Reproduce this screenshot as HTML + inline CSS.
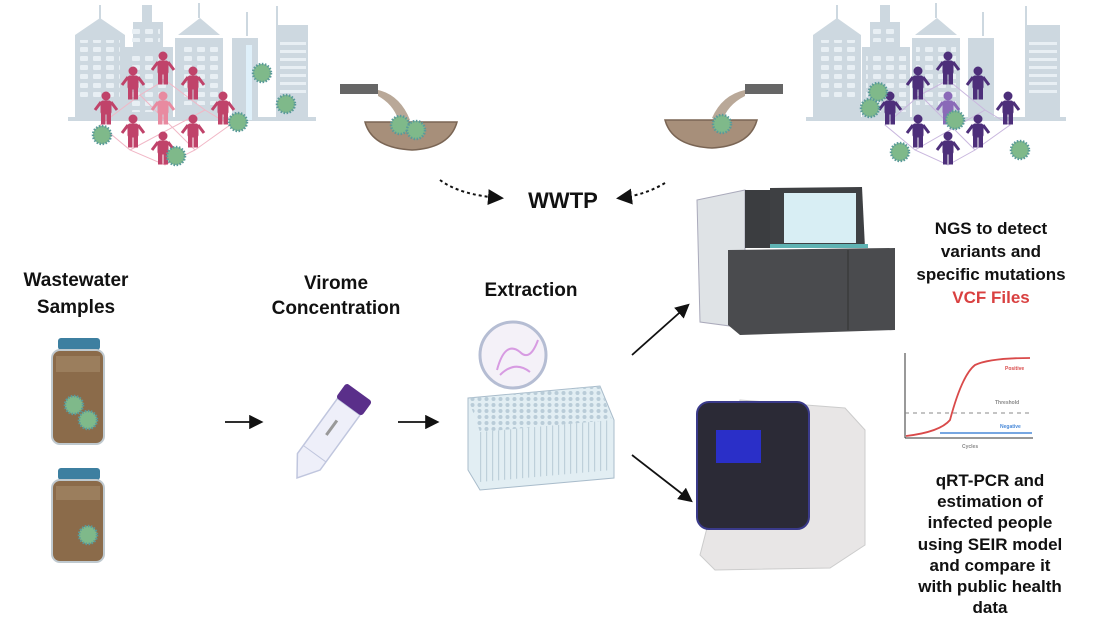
<!DOCTYPE html>
<html><head><style>
html,body{margin:0;padding:0;background:#fff;}
svg{display:block;}
text{font-family:"Liberation Sans",sans-serif;font-weight:bold;}
</style></head><body>
<svg width="1100" height="624" viewBox="0 0 1100 624" xmlns="http://www.w3.org/2000/svg">
<defs>
<marker id="ah" markerWidth="8" markerHeight="8" refX="6" refY="4" orient="auto"><path d="M0,0 L8,4 L0,8 z" fill="#111"/></marker>
<pattern id="win" width="13" height="9" patternUnits="userSpaceOnUse"><rect x="2" y="2" width="8" height="5" rx="1" fill="#e8eff4"/></pattern>
<pattern id="wells" width="7" height="6" patternUnits="userSpaceOnUse"><circle cx="3.5" cy="3" r="2" fill="#b9ccd8"/></pattern>
<pattern id="cols" width="6" height="10" patternUnits="userSpaceOnUse"><rect x="0" y="0" width="1.2" height="10" fill="#b5c9d4"/></pattern>
<g id="virus"><circle r="9" fill="#7fb98a" stroke="#5a9a9a" stroke-width="2.5" stroke-dasharray="1.5 1.5"/></g>
<g id="person"><circle cx="0" cy="-14" r="4"/><rect x="-5" y="-9" width="10" height="13" rx="2"/><rect x="-4.5" y="3" width="3.5" height="11"/><rect x="1" y="3" width="3.5" height="11"/><path d="M-5,-8 L-11,0 M5,-8 L11,0" stroke-width="3"/></g>
</defs>

<!-- left city -->
<g fill="#cdd8e0">
<rect x="75" y="35" width="50" height="85"/><polygon points="75,35 100,18 125,35"/><rect x="99" y="5" width="2" height="14"/>
<rect x="133" y="22" width="30" height="25"/><rect x="142" y="5" width="10" height="17"/><rect x="125" y="47" width="48" height="73"/>
<rect x="175" y="38" width="48" height="82"/><polygon points="178,35 200,18 220,35"/><rect x="198" y="3" width="2" height="15"/>
<rect x="232" y="38" width="26" height="82"/><rect x="246" y="12" width="2" height="24"/>
<rect x="276" y="25" width="32" height="95"/><rect x="276" y="6" width="2" height="20"/>
<rect x="68" y="117" width="248" height="4"/>
</g>
<rect x="246" y="45" width="6" height="75" fill="#dff0fa"/>
<rect x="80" y="40" width="40" height="60" fill="url(#win)"/><rect x="132" y="26" width="28" height="16" fill="url(#win)"/><rect x="130" y="52" width="40" height="60" fill="url(#win)"/><rect x="180" y="45" width="40" height="60" fill="url(#win)"/>
<g fill="#e8eff4"><rect x="280" y="42" width="26" height="3"/><rect x="280" y="50" width="26" height="3"/><rect x="280" y="58" width="26" height="3"/><rect x="280" y="66" width="26" height="3"/><rect x="280" y="74" width="26" height="3"/><rect x="280" y="82" width="26" height="3"/><rect x="280" y="90" width="26" height="3"/></g>
<g fill="none" stroke="#f1b7c6" stroke-width="1">
<path d="M100,125 L140,95 L165,80 L205,110 L230,125 L195,150 L165,165 L130,150 Z"/><path d="M140,95 L195,150 M205,110 L130,150"/>
</g>
<g fill="#c0436a" stroke="#c0436a">
<use href="#person" x="163" y="70"/><use href="#person" x="133" y="85"/><use href="#person" x="193" y="85"/>
<use href="#person" x="106" y="110"/><use href="#person" x="223" y="110"/><use href="#person" x="133" y="133"/>
<use href="#person" x="193" y="133"/><use href="#person" x="163" y="150"/>
</g>
<g fill="#e88aa0" stroke="#e88aa0"><use href="#person" x="163" y="110"/></g>
<use href="#virus" x="262" y="73"/><use href="#virus" x="286" y="104"/><use href="#virus" x="238" y="122"/><use href="#virus" x="102" y="135"/><use href="#virus" x="176" y="156"/>

<!-- left bowl -->
<rect x="340" y="84" width="38" height="10" fill="#666"/>
<path d="M378,90 Q400,95 410,120 L400,125 Q395,105 378,96Z" fill="#b9a898"/>
<path d="M365,122 L457,122 Q450,148 412,150 Q372,148 365,122Z" fill="#a78f7a" stroke="#7a6554" stroke-width="1.5"/>
<use href="#virus" x="400" y="125"/><use href="#virus" x="416" y="130"/>

<!-- right bowl -->
<rect x="745" y="84" width="38" height="10" fill="#666"/>
<path d="M745,90 Q722,95 712,118 L722,122 Q727,105 745,96Z" fill="#b9a898"/>
<path d="M665,120 L757,120 Q750,146 712,148 Q672,146 665,120Z" fill="#a78f7a" stroke="#7a6554" stroke-width="1.5"/>
<use href="#virus" x="722" y="124"/>

<!-- right city -->
<g fill="#cdd8e0">
<rect x="813" y="35" width="48" height="85"/><polygon points="813,35 837,18 861,35"/><rect x="836" y="5" width="2" height="14"/>
<rect x="870" y="22" width="30" height="25"/><rect x="880" y="5" width="10" height="17"/><rect x="862" y="47" width="48" height="73"/>
<rect x="912" y="38" width="48" height="82"/><polygon points="915,35 937,18 957,35"/><rect x="935" y="3" width="2" height="15"/>
<rect x="968" y="38" width="26" height="82"/><rect x="982" y="12" width="2" height="24"/>
<rect x="1025" y="25" width="35" height="95"/><rect x="1025" y="6" width="2" height="20"/>
<rect x="806" y="117" width="260" height="4"/>
</g>
<rect x="817" y="40" width="40" height="60" fill="url(#win)"/><rect x="869" y="26" width="28" height="16" fill="url(#win)"/><rect x="866" y="52" width="40" height="60" fill="url(#win)"/><rect x="916" y="45" width="40" height="60" fill="url(#win)"/>
<g fill="#e8eff4"><rect x="1029" y="42" width="28" height="3"/><rect x="1029" y="50" width="28" height="3"/><rect x="1029" y="58" width="28" height="3"/><rect x="1029" y="66" width="28" height="3"/><rect x="1029" y="74" width="28" height="3"/><rect x="1029" y="82" width="28" height="3"/><rect x="1029" y="90" width="28" height="3"/></g>
<g fill="none" stroke="#c9b7de" stroke-width="1">
<path d="M885,125 L920,95 L948,80 L985,110 L1010,125 L975,150 L948,165 L915,150 Z"/><path d="M920,95 L975,150 M985,110 L915,150"/>
</g>
<g fill="#4d2f7a" stroke="#4d2f7a">
<use href="#person" x="948" y="70"/><use href="#person" x="918" y="85"/><use href="#person" x="978" y="85"/>
<use href="#person" x="890" y="110"/><use href="#person" x="1008" y="110"/><use href="#person" x="918" y="133"/>
<use href="#person" x="978" y="133"/><use href="#person" x="948" y="150"/>
</g>
<g fill="#8a6ab8" stroke="#8a6ab8"><use href="#person" x="948" y="110"/></g>
<use href="#virus" x="878" y="92"/><use href="#virus" x="870" y="108"/><use href="#virus" x="900" y="152"/><use href="#virus" x="1020" y="150"/><use href="#virus" x="955" y="120"/>

<!-- WWTP -->
<path d="M440,180 Q460,195 500,198" fill="none" stroke="#111" stroke-width="2" stroke-dasharray="3 3" marker-end="url(#ah)"/>
<path d="M665,183 Q645,195 620,198" fill="none" stroke="#111" stroke-width="2" stroke-dasharray="3 3" marker-end="url(#ah)"/>
<text x="563" y="208" font-size="22" text-anchor="middle" fill="#111">WWTP</text>

<!-- labels -->
<g font-size="19" text-anchor="middle" fill="#111">
<text x="76" y="286">Wastewater</text><text x="76" y="313">Samples</text>
<text x="336" y="289">Virome</text><text x="336" y="314">Concentration</text>
<text x="531" y="296">Extraction</text>
</g>

<!-- jars -->
<g>
<rect x="58" y="338" width="42" height="12" rx="3" fill="#3d7fa0"/>
<rect x="52" y="350" width="52" height="94" rx="8" fill="#8b6b4a" stroke="#bfc9cf" stroke-width="2"/>
<rect x="56" y="356" width="44" height="16" fill="#a78a6a" opacity=".6"/>
<use href="#virus" x="74" y="405"/><use href="#virus" x="88" y="420"/>
<rect x="58" y="468" width="42" height="12" rx="3" fill="#3d7fa0"/>
<rect x="52" y="480" width="52" height="82" rx="8" fill="#8b6b4a" stroke="#bfc9cf" stroke-width="2"/>
<rect x="56" y="486" width="44" height="14" fill="#a78a6a" opacity=".6"/>
<use href="#virus" x="88" y="535"/>
</g>

<line x1="225" y1="422" x2="260" y2="422" stroke="#111" stroke-width="1.8" marker-end="url(#ah)"/>
<line x1="398" y1="422" x2="436" y2="422" stroke="#111" stroke-width="1.8" marker-end="url(#ah)"/>

<!-- tube -->
<g transform="translate(297 478) rotate(36)">
<path d="M-14,-20 L-14,-88 L14,-88 L14,-20 L0,0Z" fill="#eeeff9" stroke="#c0c6de" stroke-width="1.5"/>
<line x1="-14" y1="-30" x2="14" y2="-30" stroke="#c0c6de"/>
<rect x="-16" y="-106" width="32" height="18" rx="3" fill="#5a2f8a"/>
<rect x="-3" y="-70" width="3" height="18" fill="#999"/>
</g>

<!-- petri & plate -->
<circle cx="513" cy="355" r="33" fill="#f4f1f8" stroke="#b5bdd3" stroke-width="3"/>
<path d="M497,370 Q505,340 520,352 Q530,362 538,340" fill="none" stroke="#d79be2" stroke-width="2"/>
<path d="M500,375 Q515,360 530,372" fill="none" stroke="#d79be2" stroke-width="2"/>
<path d="M468,398 L600,386 L614,420 L614,478 L480,490 L468,470Z" fill="#e2eef3" stroke="#a9bccb" stroke-width="1"/>
<path d="M468,398 L600,386 L612,420 L480,432Z" fill="url(#wells)"/>
<path d="M480,432 L612,420 L612,470 L480,482Z" fill="url(#cols)" opacity=".8"/>

<line x1="632" y1="355" x2="687" y2="306" stroke="#111" stroke-width="1.8" marker-end="url(#ah)"/>
<line x1="632" y1="455" x2="690" y2="500" stroke="#111" stroke-width="1.8" marker-end="url(#ah)"/>

<!-- NGS machine -->
<path d="M697,200 L745,190 L745,328 L700,322Z" fill="#dfe3e6" stroke="#aab" stroke-width="1"/>
<path d="M745,190 L770,190 L770,248 L745,248Z" fill="#3b3d40"/>
<path d="M770,188 L862,187 L865,248 L770,248Z" fill="#3e4043"/>
<rect x="784" y="193" width="72" height="50" fill="#d8eef4"/>
<rect x="770" y="244" width="98" height="4" fill="#5fb3b3"/>
<path d="M728,250 L895,248 L895,330 L740,335 L728,325Z" fill="#4a4b4e"/>
<line x1="848" y1="250" x2="848" y2="330" stroke="#333"/>

<!-- qPCR -->
<path d="M740,400 L845,408 L865,430 L865,545 L830,568 L715,570 L700,555Z" fill="#e8e6e6" stroke="#ccc"/>
<rect x="697" y="402" width="112" height="127" rx="12" fill="#2b2a36" stroke="#3a3a8a" stroke-width="2"/>
<rect x="716" y="430" width="45" height="33" fill="#2a2fc8"/>

<!-- NGS text -->
<g font-size="17" text-anchor="middle" fill="#111">
<text x="991" y="234">NGS to detect</text>
<text x="991" y="257">variants and</text>
<text x="991" y="280">specific mutations</text>
<text x="991" y="303" fill="#d94040">VCF Files</text>
</g>

<!-- chart -->
<line x1="905" y1="353" x2="905" y2="438" stroke="#333" stroke-width="1"/>
<line x1="905" y1="438" x2="1033" y2="438" stroke="#333" stroke-width="1"/>
<path d="M906,436 Q940,432 950,420 Q962,375 975,365 Q990,358 1030,358" fill="none" stroke="#d94a4a" stroke-width="1.8"/>
<line x1="905" y1="413" x2="1030" y2="413" stroke="#888" stroke-width="1" stroke-dasharray="4 4"/>
<line x1="940" y1="433" x2="1032" y2="433" stroke="#4a8ad9" stroke-width="1.5"/>
<g font-size="5" fill="#888" font-weight="normal"><text x="995" y="404">Threshold</text><text x="1005" y="370" fill="#d94a4a">Positive</text><text x="1000" y="428" fill="#4a8ad9">Negative</text><text x="962" y="448">Cycles</text></g>

<!-- qRT text -->
<g font-size="17" text-anchor="middle" fill="#111">
<text x="990" y="486">qRT-PCR and</text>
<text x="990" y="507">estimation of</text>
<text x="990" y="528">infected people</text>
<text x="990" y="550">using SEIR model</text>
<text x="990" y="571">and compare it</text>
<text x="990" y="592">with public health</text>
<text x="990" y="613">data</text>
</g>
</svg>
</body></html>
